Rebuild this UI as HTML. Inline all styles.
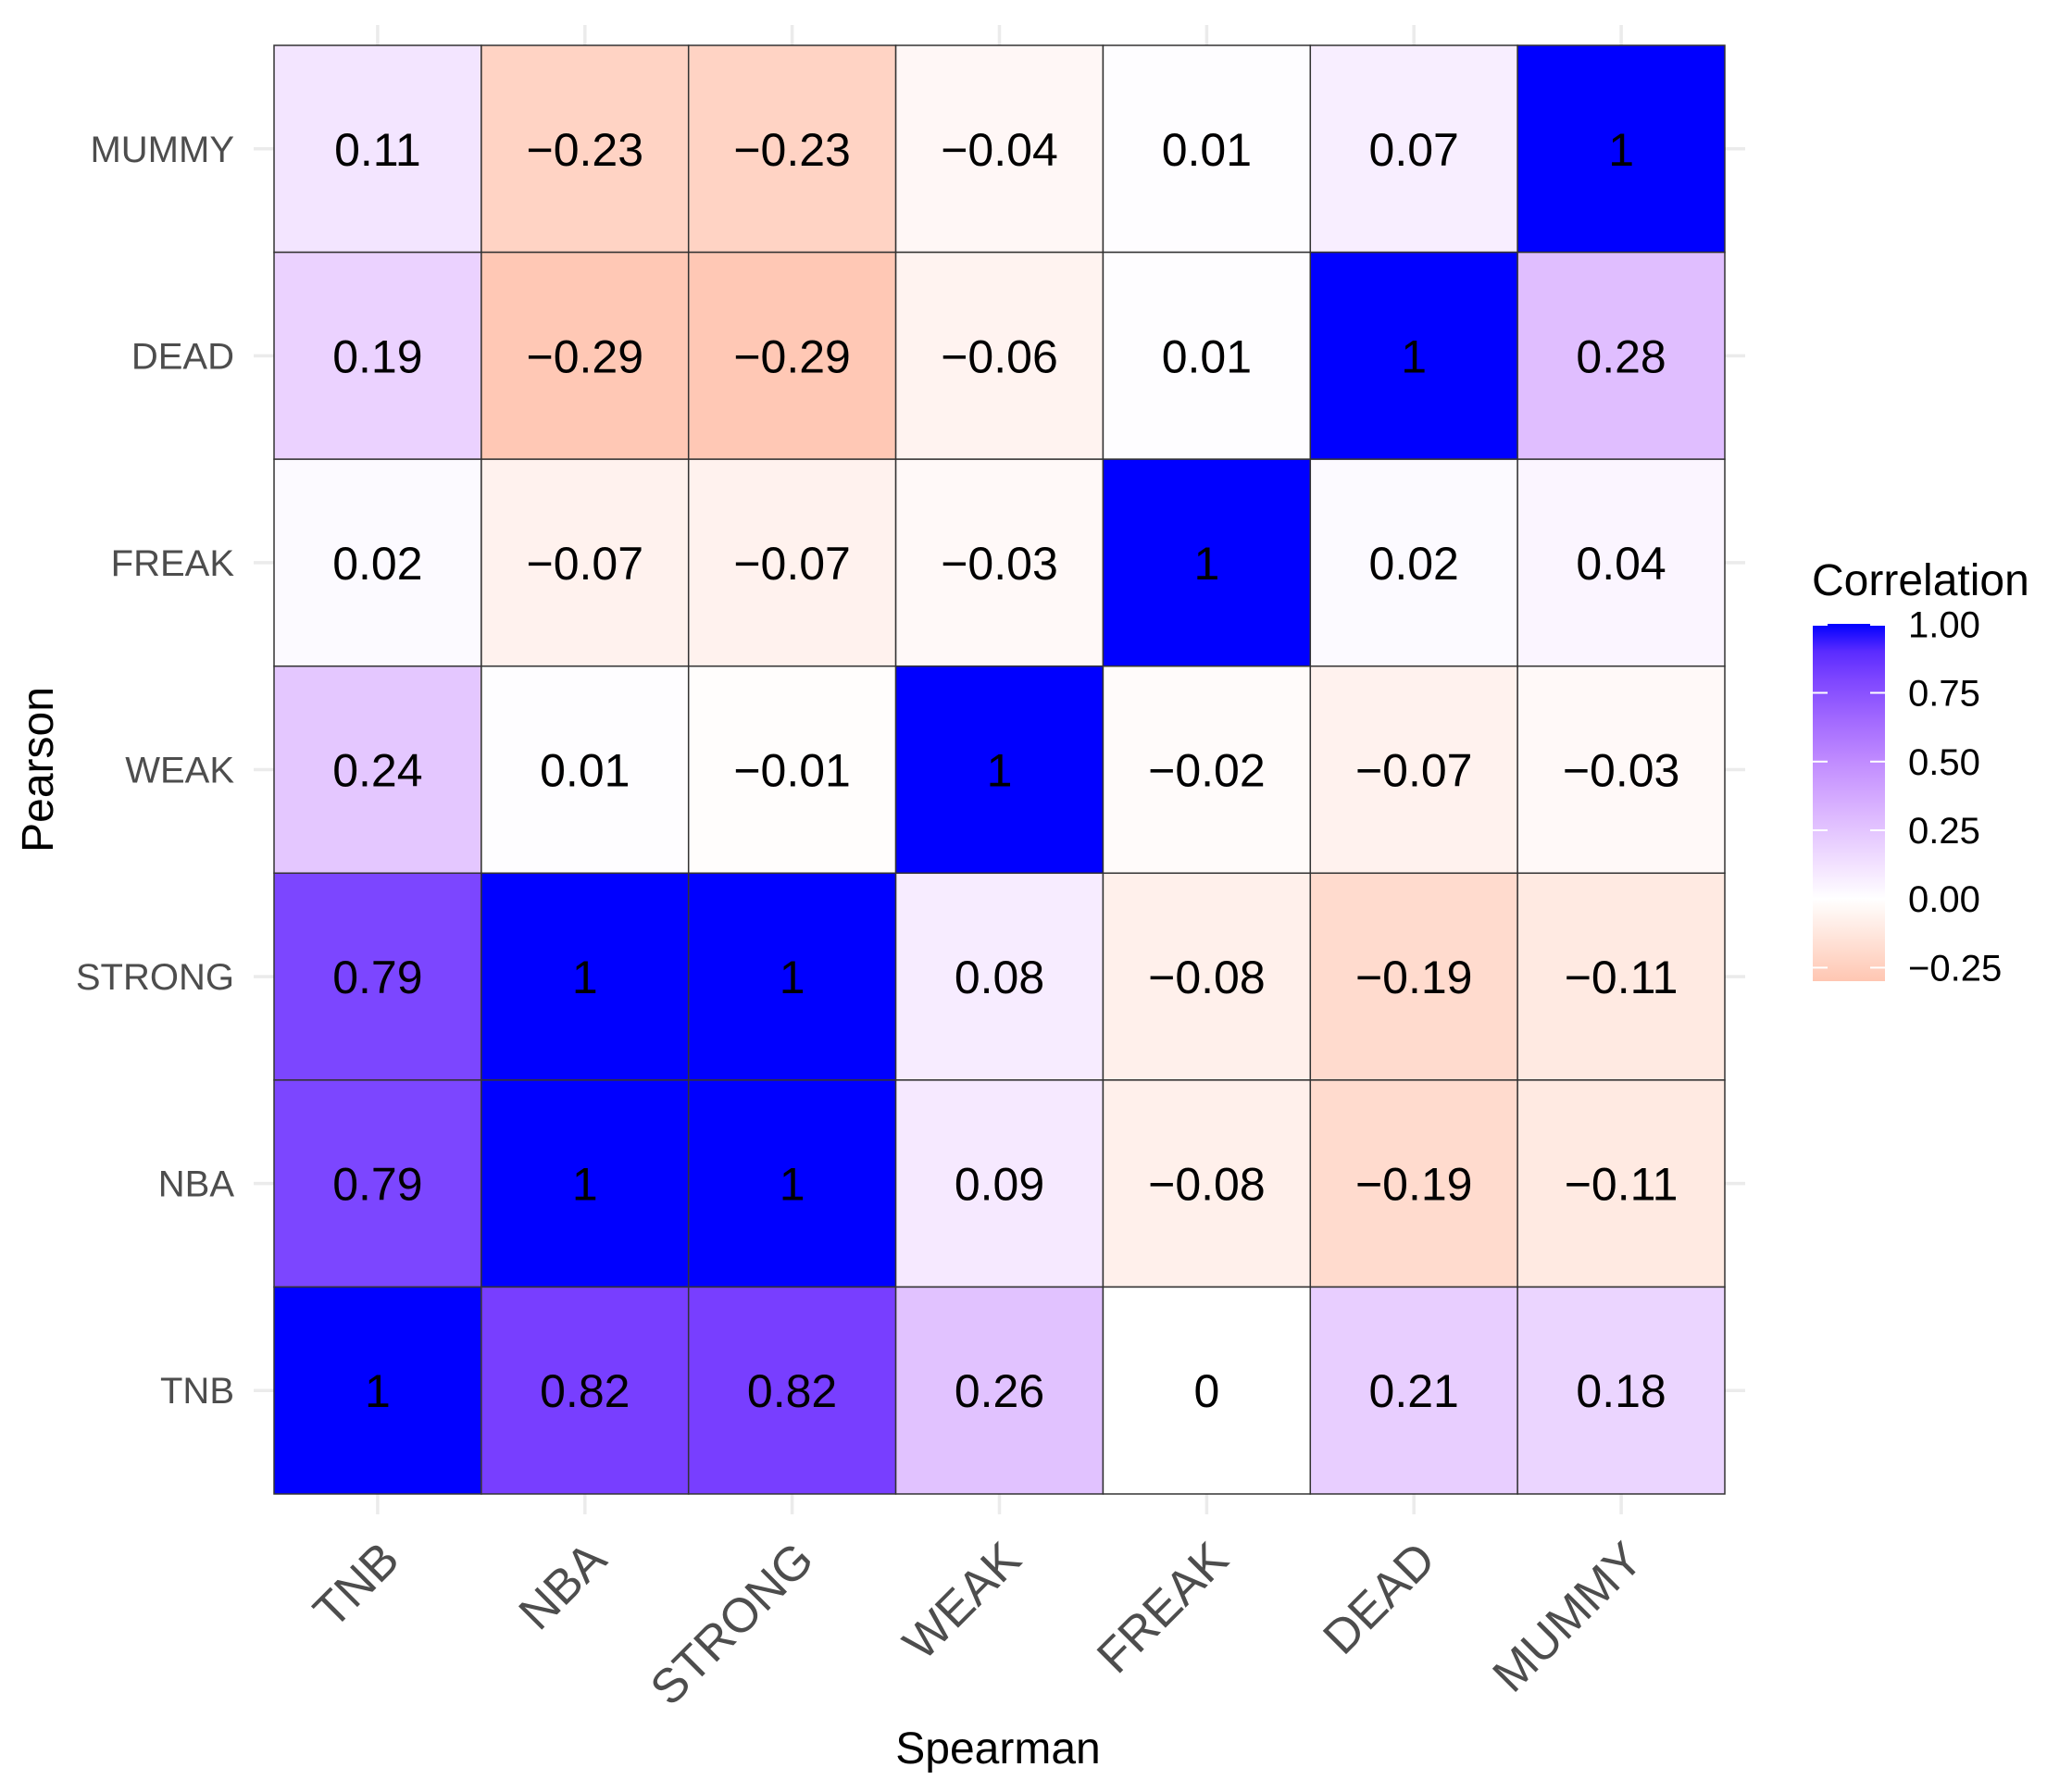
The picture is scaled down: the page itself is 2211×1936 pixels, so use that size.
<!DOCTYPE html>
<html>
<head>
<meta charset="utf-8">
<style>
  html, body { margin: 0; padding: 0; background: #ffffff; }
  svg { display: block; }
  text { font-family: "Liberation Sans", Arial, Helvetica, sans-serif; }
</style>
</head>
<body>
<svg width="2211" height="1936" viewBox="0 0 2211 1936" xmlns="http://www.w3.org/2000/svg">
  <defs>
    <linearGradient id="cbar" x1="0" y1="0" x2="0" y2="1">
      <stop offset="0" stop-color="#0000FF"/>
      <stop offset="0.0769" stop-color="rgb(90,43,255)"/>
      <stop offset="0.1538" stop-color="rgb(125,69,255)"/>
      <stop offset="0.2692" stop-color="rgb(162,105,255)"/>
      <stop offset="0.3846" stop-color="rgb(192,139,255)"/>
      <stop offset="0.4615" stop-color="rgb(207,162,255)"/>
      <stop offset="0.5385" stop-color="rgb(221,185,255)"/>
      <stop offset="0.6154" stop-color="rgb(233,208,255)"/>
      <stop offset="0.6923" stop-color="rgb(245,231,255)"/>
      <stop offset="0.7692" stop-color="#FFFFFF"/>
      <stop offset="0.8462" stop-color="rgb(255,236,229)"/>
      <stop offset="0.9231" stop-color="rgb(255,217,203)"/>
      <stop offset="1" stop-color="rgb(255,198,178)"/>
    </linearGradient>
  </defs>

  <rect x="0" y="0" width="2211" height="1936" fill="#ffffff"/>

  <!-- gridlines -->
  <g stroke="#EBEBEB" stroke-width="3.5">
    <line x1="407.9" y1="27" x2="407.9" y2="1636"/>
    <line x1="631.8" y1="27" x2="631.8" y2="1636"/>
    <line x1="855.6" y1="27" x2="855.6" y2="1636"/>
    <line x1="1079.5" y1="27" x2="1079.5" y2="1636"/>
    <line x1="1303.4" y1="27" x2="1303.4" y2="1636"/>
    <line x1="1527.2" y1="27" x2="1527.2" y2="1636"/>
    <line x1="1751.1" y1="27" x2="1751.1" y2="1636"/>
    <line x1="274" y1="160.8" x2="1885" y2="160.8"/>
    <line x1="274" y1="384.4" x2="1885" y2="384.4"/>
    <line x1="274" y1="607.9" x2="1885" y2="607.9"/>
    <line x1="274" y1="831.5" x2="1885" y2="831.5"/>
    <line x1="274" y1="1055.1" x2="1885" y2="1055.1"/>
    <line x1="274" y1="1278.6" x2="1885" y2="1278.6"/>
    <line x1="274" y1="1502.2" x2="1885" y2="1502.2"/>
  </g>

  <!-- tiles -->
  <g stroke="#333333" stroke-width="1.5">
    <!-- Row MUMMY -->
    <rect x="296" y="49" width="223.86" height="223.57" fill="#F3E5FF"/>
    <rect x="519.86" y="49" width="223.86" height="223.57" fill="#FFD3C4"/>
    <rect x="743.71" y="49" width="223.86" height="223.57" fill="#FFD3C4"/>
    <rect x="967.57" y="49" width="223.86" height="223.57" fill="#FFF7F6"/>
    <rect x="1191.43" y="49" width="223.86" height="223.57" fill="#FEFDFF"/>
    <rect x="1415.29" y="49" width="223.86" height="223.57" fill="#F8EEFF"/>
    <rect x="1639.14" y="49" width="223.86" height="223.57" fill="#0000FF"/>
    <!-- Row DEAD -->
    <rect x="296" y="272.57" width="223.86" height="223.57" fill="#EBD2FF"/>
    <rect x="519.86" y="272.57" width="223.86" height="223.57" fill="#FFC8B5"/>
    <rect x="743.71" y="272.57" width="223.86" height="223.57" fill="#FFC8B5"/>
    <rect x="967.57" y="272.57" width="223.86" height="223.57" fill="#FFF3F0"/>
    <rect x="1191.43" y="272.57" width="223.86" height="223.57" fill="#FEFDFF"/>
    <rect x="1415.29" y="272.57" width="223.86" height="223.57" fill="#0000FF"/>
    <rect x="1639.14" y="272.57" width="223.86" height="223.57" fill="#E0BEFF"/>
    <!-- Row FREAK -->
    <rect x="296" y="496.14" width="223.86" height="223.57" fill="#FCFAFF"/>
    <rect x="519.86" y="496.14" width="223.86" height="223.57" fill="#FFF2EE"/>
    <rect x="743.71" y="496.14" width="223.86" height="223.57" fill="#FFF2EE"/>
    <rect x="967.57" y="496.14" width="223.86" height="223.57" fill="#FFF9F8"/>
    <rect x="1191.43" y="496.14" width="223.86" height="223.57" fill="#0000FF"/>
    <rect x="1415.29" y="496.14" width="223.86" height="223.57" fill="#FCFAFF"/>
    <rect x="1639.14" y="496.14" width="223.86" height="223.57" fill="#FBF5FF"/>
    <!-- Row WEAK -->
    <rect x="296" y="719.71" width="223.86" height="223.57" fill="#E4C7FF"/>
    <rect x="519.86" y="719.71" width="223.86" height="223.57" fill="#FEFDFF"/>
    <rect x="743.71" y="719.71" width="223.86" height="223.57" fill="#FFFDFC"/>
    <rect x="967.57" y="719.71" width="223.86" height="223.57" fill="#0000FF"/>
    <rect x="1191.43" y="719.71" width="223.86" height="223.57" fill="#FFFBFA"/>
    <rect x="1415.29" y="719.71" width="223.86" height="223.57" fill="#FFF2EE"/>
    <rect x="1639.14" y="719.71" width="223.86" height="223.57" fill="#FFF9F8"/>
    <!-- Row STRONG -->
    <rect x="296" y="943.29" width="223.86" height="223.57" fill="#7C46FF"/>
    <rect x="519.86" y="943.29" width="223.86" height="223.57" fill="#0000FF"/>
    <rect x="743.71" y="943.29" width="223.86" height="223.57" fill="#0000FF"/>
    <rect x="967.57" y="943.29" width="223.86" height="223.57" fill="#F7ECFF"/>
    <rect x="1191.43" y="943.29" width="223.86" height="223.57" fill="#FFF0EB"/>
    <rect x="1415.29" y="943.29" width="223.86" height="223.57" fill="#FFDBCE"/>
    <rect x="1639.14" y="943.29" width="223.86" height="223.57" fill="#FFEAE2"/>
    <!-- Row NBA -->
    <rect x="296" y="1166.86" width="223.86" height="223.57" fill="#7C46FF"/>
    <rect x="519.86" y="1166.86" width="223.86" height="223.57" fill="#0000FF"/>
    <rect x="743.71" y="1166.86" width="223.86" height="223.57" fill="#0000FF"/>
    <rect x="967.57" y="1166.86" width="223.86" height="223.57" fill="#F6E9FF"/>
    <rect x="1191.43" y="1166.86" width="223.86" height="223.57" fill="#FFF0EB"/>
    <rect x="1415.29" y="1166.86" width="223.86" height="223.57" fill="#FFDBCE"/>
    <rect x="1639.14" y="1166.86" width="223.86" height="223.57" fill="#FFEAE2"/>
    <!-- Row TNB -->
    <rect x="296" y="1390.43" width="223.86" height="223.57" fill="#0000FF"/>
    <rect x="519.86" y="1390.43" width="223.86" height="223.57" fill="#783EFF"/>
    <rect x="743.71" y="1390.43" width="223.86" height="223.57" fill="#783EFF"/>
    <rect x="967.57" y="1390.43" width="223.86" height="223.57" fill="#E1C2FF"/>
    <rect x="1191.43" y="1390.43" width="223.86" height="223.57" fill="#FFFFFF"/>
    <rect x="1415.29" y="1390.43" width="223.86" height="223.57" fill="#E8CEFF"/>
    <rect x="1639.14" y="1390.43" width="223.86" height="223.57" fill="#EBD5FF"/>
  </g>

  <!-- cell labels -->
  <g font-size="50" fill="#000000" text-anchor="middle">
    <text x="407.9" y="178.8">0.11</text>
    <text x="631.8" y="178.8">−0.23</text>
    <text x="855.6" y="178.8">−0.23</text>
    <text x="1079.5" y="178.8">−0.04</text>
    <text x="1303.4" y="178.8">0.01</text>
    <text x="1527.2" y="178.8">0.07</text>
    <text x="1751.1" y="178.8">1</text>

    <text x="407.9" y="402.4">0.19</text>
    <text x="631.8" y="402.4">−0.29</text>
    <text x="855.6" y="402.4">−0.29</text>
    <text x="1079.5" y="402.4">−0.06</text>
    <text x="1303.4" y="402.4">0.01</text>
    <text x="1527.2" y="402.4">1</text>
    <text x="1751.1" y="402.4">0.28</text>

    <text x="407.9" y="625.9">0.02</text>
    <text x="631.8" y="625.9">−0.07</text>
    <text x="855.6" y="625.9">−0.07</text>
    <text x="1079.5" y="625.9">−0.03</text>
    <text x="1303.4" y="625.9">1</text>
    <text x="1527.2" y="625.9">0.02</text>
    <text x="1751.1" y="625.9">0.04</text>

    <text x="407.9" y="849.5">0.24</text>
    <text x="631.8" y="849.5">0.01</text>
    <text x="855.6" y="849.5">−0.01</text>
    <text x="1079.5" y="849.5">1</text>
    <text x="1303.4" y="849.5">−0.02</text>
    <text x="1527.2" y="849.5">−0.07</text>
    <text x="1751.1" y="849.5">−0.03</text>

    <text x="407.9" y="1073.1">0.79</text>
    <text x="631.8" y="1073.1">1</text>
    <text x="855.6" y="1073.1">1</text>
    <text x="1079.5" y="1073.1">0.08</text>
    <text x="1303.4" y="1073.1">−0.08</text>
    <text x="1527.2" y="1073.1">−0.19</text>
    <text x="1751.1" y="1073.1">−0.11</text>

    <text x="407.9" y="1296.6">0.79</text>
    <text x="631.8" y="1296.6">1</text>
    <text x="855.6" y="1296.6">1</text>
    <text x="1079.5" y="1296.6">0.09</text>
    <text x="1303.4" y="1296.6">−0.08</text>
    <text x="1527.2" y="1296.6">−0.19</text>
    <text x="1751.1" y="1296.6">−0.11</text>

    <text x="407.9" y="1520.2">1</text>
    <text x="631.8" y="1520.2">0.82</text>
    <text x="855.6" y="1520.2">0.82</text>
    <text x="1079.5" y="1520.2">0.26</text>
    <text x="1303.4" y="1520.2">0</text>
    <text x="1527.2" y="1520.2">0.21</text>
    <text x="1751.1" y="1520.2">0.18</text>
  </g>

  <!-- y axis labels -->
  <g font-size="40" fill="#4D4D4D" text-anchor="end">
    <text x="253" y="174.8">MUMMY</text>
    <text x="253" y="398.4">DEAD</text>
    <text x="253" y="621.9">FREAK</text>
    <text x="253" y="845.5">WEAK</text>
    <text x="253" y="1069.1">STRONG</text>
    <text x="253" y="1292.6">NBA</text>
    <text x="253" y="1516.2">TNB</text>
  </g>

  <!-- x axis labels -->
  <g font-size="52" fill="#4D4D4D" text-anchor="end">
    <text transform="translate(433.9,1688) rotate(-45)">TNB</text>
    <text transform="translate(657.8,1688) rotate(-45)">NBA</text>
    <text transform="translate(881.6,1688) rotate(-45)">STRONG</text>
    <text transform="translate(1105.5,1688) rotate(-45)">WEAK</text>
    <text transform="translate(1329.4,1688) rotate(-45)">FREAK</text>
    <text transform="translate(1553.2,1688) rotate(-45)">DEAD</text>
    <text transform="translate(1777.1,1688) rotate(-45)">MUMMY</text>
  </g>

  <!-- axis titles -->
  <text x="1078" y="1905" font-size="48" fill="#000000" text-anchor="middle">Spearman</text>
  <text transform="translate(57,831.5) rotate(-90)" font-size="48" fill="#000000" text-anchor="middle">Pearson</text>

  <!-- legend -->
  <text x="1957" y="643" font-size="48" fill="#000000">Correlation</text>
  <rect x="1958" y="674" width="78" height="386" fill="url(#cbar)"/>
  <g stroke="#FFFFFF" stroke-width="2">
    <line x1="1958" y1="675" x2="1974" y2="675"/>
    <line x1="2020" y1="675" x2="2036" y2="675"/>
    <line x1="1958" y1="748.5" x2="1974" y2="748.5"/>
    <line x1="2020" y1="748.5" x2="2036" y2="748.5"/>
    <line x1="1958" y1="822.8" x2="1974" y2="822.8"/>
    <line x1="2020" y1="822.8" x2="2036" y2="822.8"/>
    <line x1="1958" y1="897" x2="1974" y2="897"/>
    <line x1="2020" y1="897" x2="2036" y2="897"/>
    <line x1="1958" y1="971.2" x2="1974" y2="971.2"/>
    <line x1="2020" y1="971.2" x2="2036" y2="971.2"/>
    <line x1="1958" y1="1045.4" x2="1974" y2="1045.4"/>
    <line x1="2020" y1="1045.4" x2="2036" y2="1045.4"/>
  </g>
  <g font-size="40" fill="#000000">
    <text x="2061" y="688.5">1.00</text>
    <text x="2061" y="762.5">0.75</text>
    <text x="2061" y="836.8">0.50</text>
    <text x="2061" y="911">0.25</text>
    <text x="2061" y="985.2">0.00</text>
    <text x="2061" y="1059.4">−0.25</text>
  </g>
</svg>
</body>
</html>
